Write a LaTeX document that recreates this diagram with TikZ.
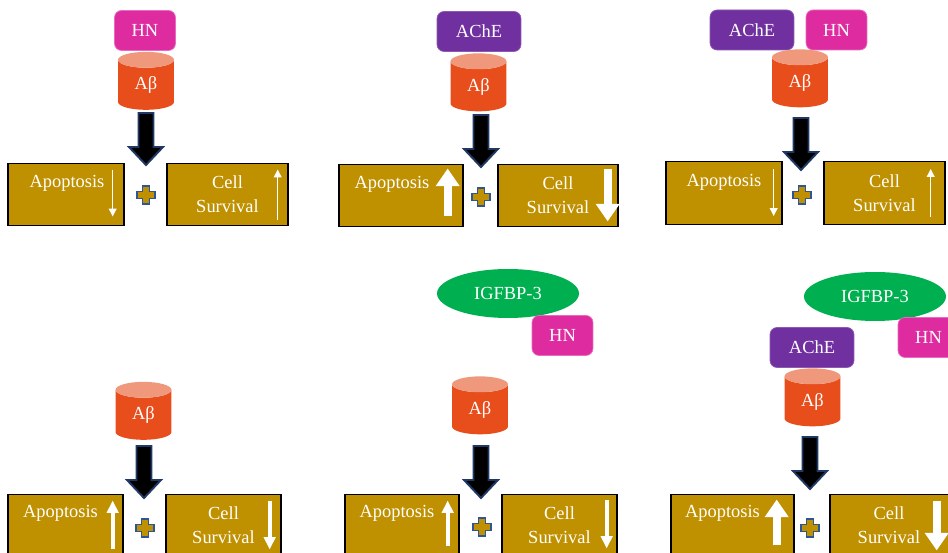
\documentclass[tikz,border=0pt]{standalone}
\usepackage{fontspec}
\setmainfont{Liberation Serif}
\usetikzlibrary{shapes.geometric,arrows.meta,calc,positioning}

\definecolor{gold}{HTML}{BF9000}
\definecolor{abody}{HTML}{E84E1C}
\definecolor{atop}{HTML}{F0987C}
\definecolor{hnpink}{HTML}{DE2CA0}
\definecolor{achepurple}{HTML}{7030A0}
\definecolor{igfgreen}{HTML}{00B050}
\definecolor{navy}{HTML}{203864}
\definecolor{plusblue}{HTML}{2F5597}

\begin{document}
\begin{tikzpicture}[
    x=0.02cm, y=-0.02cm,
    every node/.style={font=\fontsize{10.5}{13.6}\selectfont, text=white},
    tag/.style={rectangle, rounded corners=4pt, minimum height=0.8cm, inner sep=0pt},
    hn/.style={tag, fill=hnpink, draw=hnpink!70!white, minimum width=1.22cm},
    ache/.style={tag, fill=achepurple, draw=achepurple!80!white, minimum width=1.68cm},
    igf/.style={ellipse, fill=igfgreen, minimum width=2.84cm, minimum height=0.98cm, inner sep=0pt},
    abeta/.style={cylinder, shape border rotate=90, aspect=0.7, cylinder uses custom fill,
        cylinder body fill=abody, cylinder end fill=atop, minimum width=1.12cm, minimum height=1.16cm, inner sep=0pt},
    outbox/.style={rectangle, draw=black, line width=0.8pt, fill=gold, minimum height=1.25cm, inner sep=0pt},
    txt/.style={align=center, inner sep=0pt},
    thinarr/.style={draw=white, line width=0.6pt, -{Triangle[width=4.5pt,length=4.5pt]}},
    midarr/.style={draw=white, line width=2.3pt, -{Triangle[width=6.5pt,length=7pt]}},
    fatarr/.style={draw=white, line width=4.5pt, -{Triangle[width=13pt,length=10pt]}},
    bigdown/.pic={\filldraw[fill=black, draw=navy, line width=1.1pt]
        (-7.5,0) -- (-7.5,34) -- (-17,34) -- (0,52) -- (17,34) -- (7.5,34) -- (7.5,0) -- cycle;},
    plussign/.pic={\filldraw[fill=gold, draw=plusblue, line width=1pt]
        (-3.5,-9) -- (3.5,-9) -- (3.5,-3.5) -- (9,-3.5) -- (9,3.5) -- (3.5,3.5) -- (3.5,9) -- (-3.5,9)
        -- (-3.5,3.5) -- (-9,3.5) -- (-9,-3.5) -- (-3.5,-3.5) -- cycle;}
]
    \useasboundingbox (0,0) rectangle (948,553);

    % HN + Abeta
    \node[hn] (hn1) at (145,30.5) {HN};
    \node[abeta] (ab1) at (146,85) {Aβ};
    \pic at (146,113) {bigdown};
    \node[outbox, minimum width=2.32cm] (apo1) at (66,194.5) {};
    \node[outbox, minimum width=2.42cm] (cell1) at (227.5,194.5) {};
    \pic at (146,195) {plussign};
    \node[txt] (apo1t) at ($(apo1.center)+(1,-11)$) {Apoptosis};
    \node[txt] (cell1t) at (cell1.center) {Cell\\Survival};
    \draw[thinarr] ($(apo1.north east)+(-12,7)$) -- ($(apo1.south east)+(-12,-10)$);
    \draw[thinarr] ($(cell1.south east)+(-11,-6)$) -- ($(cell1.north east)+(-11,7)$);

    % AChE + Abeta
    \node[ache] (ache2) at (479,31.5) {AChE};
    \node[abeta] (ab2) at (478.5,86.5) {Aβ};
    \pic at (481,115) {bigdown};
    \node[outbox, minimum width=2.48cm] (apo2) at (401,195.5) {};
    \node[outbox, minimum width=2.40cm] (cell2) at (558,195.5) {};
    \pic at (481,197) {plussign};
    \node[txt] (apo2t) at ($(apo2.center)+(-9,-11)$) {Apoptosis};
    \node[txt] (cell2t) at (cell2.center) {Cell\\Survival};
    \draw[fatarr] ($(apo2.south east)+(-16,-11)$) -- ($(apo2.north east)+(-16,5)$);
    \draw[fatarr] ($(cell2.north east)+(-11,5)$) -- ($(cell2.south east)+(-11,-6)$);

    % AChE + HN + Abeta
    \node[ache] (ache3) at (752,30) {AChE};
    \node[hn] (hn3) at (836.5,30) {HN};
    \node[abeta] (ab3) at (800,82.5) {Aβ};
    \pic at (801,118) {bigdown};
    \node[outbox, minimum width=2.32cm] (apo3) at (724,193) {};
    \node[outbox, minimum width=2.42cm] (cell3) at (884.5,193) {};
    \pic at (802,195) {plussign};
    \node[txt] (apo3t) at ($(apo3.center)+(0,-11)$) {Apoptosis};
    \node[txt] (cell3t) at (cell3.center) {Cell\\Survival};
    \draw[thinarr] ($(apo3.north east)+(-9,8)$) -- ($(apo3.south east)+(-9,-9)$);
    \draw[thinarr] ($(cell3.south east)+(-15,-8)$) -- ($(cell3.north east)+(-15,8)$);

    % Abeta alone
    \node[abeta] (ab4) at (143.5,415) {Aβ};
    \pic at (144,446) {bigdown};
    \node[outbox, minimum width=2.30cm] (apo4) at (65.5,525.5) {};
    \node[outbox, minimum width=2.30cm] (cell4) at (223.5,525.5) {};
    \pic at (145,528) {plussign};
    \node[txt] (apo4t) at ($(apo4.center)+(-5,-12)$) {Apoptosis};
    \node[txt] (cell4t) at (cell4.center) {Cell\\Survival};
    \draw[midarr] ($(apo4.south east)+(-11,-8)$) -- ($(apo4.north east)+(-11,7)$);
    \draw[midarr] ($(cell4.north east)+(-12,7)$) -- ($(cell4.south east)+(-12,-8)$);

    % IGFBP-3 + HN, Abeta
    \node[igf] (igf5) at (508,293.5) {IGFBP-3};
    \node[hn] (hn5) at (562.5,335.5) {HN};
    \node[abeta] (ab5) at (480,409.5) {Aβ};
    \pic at (481,446) {bigdown};
    \node[outbox, minimum width=2.28cm] (apo5) at (402,525.5) {};
    \node[outbox, minimum width=2.30cm] (cell5) at (559.5,525.5) {};
    \pic at (482,527) {plussign};
    \node[txt] (apo5t) at ($(apo5.center)+(-5,-12)$) {Apoptosis};
    \node[txt] (cell5t) at (cell5.center) {Cell\\Survival};
    \draw[midarr] ($(apo5.south east)+(-12,-11)$) -- ($(apo5.north east)+(-12,7)$);
    \draw[midarr] ($(cell5.north east)+(-11,6)$) -- ($(cell5.south east)+(-11,-9)$);

    % IGFBP-3 + HN, AChE + Abeta
    \node[igf] (igf6) at (875,296.5) {IGFBP-3};
    \node[hn] (hn6) at (928.5,337.5) {HN};
    \node[ache] (ache6) at (812,347.5) {AChE};
    \node[abeta] (ab6) at (812.5,401.5) {Aβ};
    \pic at (810,437) {bigdown};
    \node[outbox, minimum width=2.46cm] (apo6) at (732.5,525.5) {};
    \node[outbox, minimum width=2.40cm] (cell6) at (890,525.5) {};
    \pic at (810,528) {plussign};
    \node[txt] (apo6t) at ($(apo6.center)+(-10,-12)$) {Apoptosis};
    \node[txt] (cell6t) at ($(cell6.center)+(-1,0)$) {Cell\\Survival};
    \draw[fatarr] ($(apo6.south east)+(-18,-12)$) -- ($(apo6.north east)+(-18,6)$);
    \draw[fatarr] ($(cell6.north east)+(-14,7)$) -- ($(cell6.south east)+(-14,-7)$);
\end{tikzpicture}
\end{document}
